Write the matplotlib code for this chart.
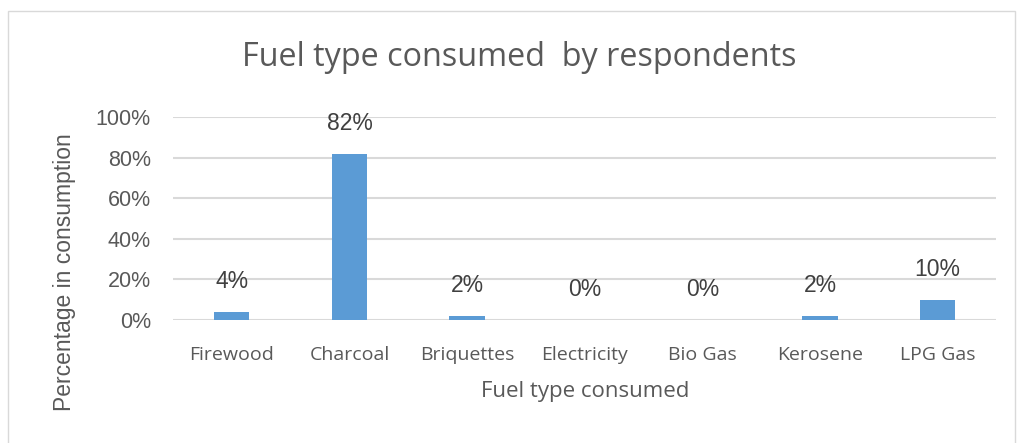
import matplotlib.pyplot as plt
from matplotlib.patches import Rectangle

fuels = ['Firewood', 'Charcoal', 'Briquettes', 'Electricity', 'Bio Gas', 'Kerosene', 'LPG Gas']
shares = [4, 82, 2, 0, 0, 2, 10]
yticks = [0, 20, 40, 60, 80, 100]

grey = '#595959'
fig = plt.figure(figsize=(10.19, 4.43), dpi=100)
fig.patches.append(Rectangle((0.008, -0.01), 0.988, 0.985, transform=fig.transFigure,
                             fill=False, edgecolor='#d9d9d9', linewidth=1))

ax = fig.add_axes([0.1698, 0.2777, 0.808, 0.4582])
x = range(len(fuels))
ax.bar(x, shares, width=0.3, color='#5b9bd5', zorder=3)
for xi, v in zip(x, shares):
    ax.text(xi, v + 15, f'{v}%', ha='center', va='center', fontsize=16.5,
            color='#404040', family='Liberation Sans', clip_on=False)

ax.set_xlim(-0.5, len(fuels) - 0.5)
ax.set_ylim(0, 100)
ax.set_yticks(yticks)
ax.set_yticklabels([f'{t}%' for t in yticks], family='Liberation Sans', fontsize=15.5, color=grey)
ax.set_xticks(list(x))
ax.set_xticklabels(fuels, family='Open Sans', fontsize=14, color=grey)
ax.tick_params(length=0, axis='y', pad=16)
ax.tick_params(length=0, axis='x', pad=19)
ax.grid(axis='y', color='#d9d9d9', linewidth=1.5, zorder=0)
ax.set_axisbelow(True)
for s in ax.spines.values():
    s.set_visible(False)

ax.set_xlabel('Fuel type consumed', family='Open Sans', fontsize=16, color=grey, labelpad=12)
fig.text(65 / 1019, 1 - 272 / 443, 'Percentage in consumption', rotation=90,
         ha='center', va='center', family='Liberation Sans', fontsize=16.5, color=grey)
fig.text(519 / 1019, 1 - 57 / 443, 'Fuel type consumed  by respondents',
         ha='center', va='center', family='Open Sans', fontsize=23.3, color=grey)

fig.savefig('out.png', dpi=100)
